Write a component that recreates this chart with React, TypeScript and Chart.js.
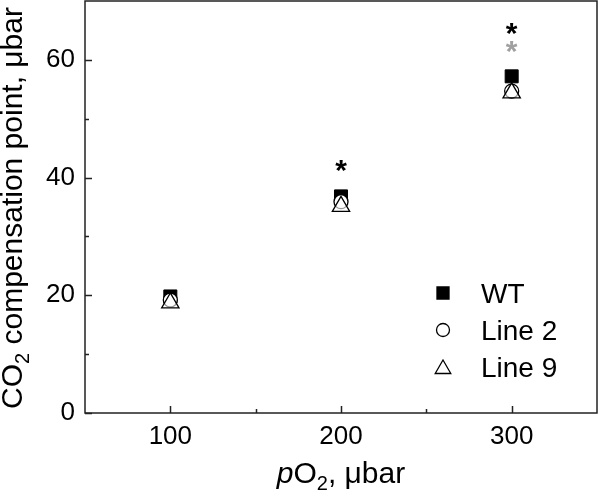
import React, { useEffect, useRef } from 'react';
import { Chart, registerables } from 'chart.js';
import { drawPoint } from 'chart.js/helpers';
Chart.register(...registerables);

const pO2 = [100, 200, 300];
const wtValues = [19.8, 36.8, 57.2];
const line2Values = [19.2, 35.9, 54.7];
const line9Values = [18.7, 35.1, 54.4];
const starBlackX = [200, 300];
const starBlackY = [42.0, 65.3];
const starGrayX = [300];
const starGrayY = [62.1];
const xMajorTicks = [100, 200, 300];
const xMinorTicks = [150, 250];
const yMajorTicks = [0, 20, 40, 60];
const yMinorTicks = [10, 30, 50];
const seriesLabels = ['WT', 'Line 2', 'Line 9'];

const FONT = "'Liberation Sans', Arial, sans-serif";

function drawRich(ctx: CanvasRenderingContext2D, parts: { t: string; f: string; dy: number }[], cx: number, baseY: number) {
  let total = 0;
  const widths = parts.map((p) => {
    ctx.font = p.f;
    const w = ctx.measureText(p.t).width;
    total += w;
    return w;
  });
  let x = cx - total / 2;
  ctx.textAlign = 'left';
  ctx.textBaseline = 'alphabetic';
  parts.forEach((p, i) => {
    ctx.font = p.f;
    ctx.fillText(p.t, x, baseY + p.dy);
    x += widths[i];
  });
}

const decorPlugin = {
  id: 'decor',
  afterDatasetsDraw(chart: any) {
    const ctx: CanvasRenderingContext2D = chart.ctx;
    const { left, right, top, bottom } = chart.chartArea;
    const xs = chart.scales.x;
    const ys = chart.scales.y;
    ctx.save();
    // frame
    ctx.strokeStyle = '#222';
    ctx.lineWidth = 1.5;
    ctx.strokeRect(left, top, right - left, bottom - top);
    // inward ticks
    ctx.beginPath();
    xMajorTicks.forEach((v) => { const px = Math.round(xs.getPixelForValue(v)) + 0.5; ctx.moveTo(px, bottom); ctx.lineTo(px, bottom - 7); });
    xMinorTicks.forEach((v) => { const px = Math.round(xs.getPixelForValue(v)) + 0.5; ctx.moveTo(px, bottom); ctx.lineTo(px, bottom - 4); });
    yMajorTicks.forEach((v) => { const py = Math.round(ys.getPixelForValue(v)) + 0.5; ctx.moveTo(left, py); ctx.lineTo(left + 7, py); });
    yMinorTicks.forEach((v) => { const py = Math.round(ys.getPixelForValue(v)) + 0.5; ctx.moveTo(left, py); ctx.lineTo(left + 4, py); });
    ctx.stroke();

    // asterisks
    const drawStars = (idx: number, color: string) => {
      const meta = chart.getDatasetMeta(idx);
      ctx.fillStyle = color;
      ctx.font = `bold 30px ${FONT}`;
      ctx.textAlign = 'center';
      ctx.textBaseline = 'alphabetic';
      const m = ctx.measureText('*');
      const asc = m.actualBoundingBoxAscent;
      const desc = m.actualBoundingBoxDescent;
      meta.data.forEach((el: any) => {
        ctx.fillText('*', el.x, el.y + (asc - desc) / 2);
      });
    };
    drawStars(3, '#000');
    drawStars(4, '#a0a0a0');

    // legend
    const lx = 443;
    const rows = [293, 330, 367];
    const styles = [
      { style: 'rect', r: 8.5, fill: '#000' },
      { style: 'circle', r: 6.5, fill: '#fff' },
      { style: 'triangle', r: 9, fill: '#fff' },
    ];
    chart.data.datasets.slice(0, 3).forEach((ds: any, i: number) => {
      const s = styles[i];
      ctx.fillStyle = s.fill;
      ctx.strokeStyle = '#000';
      ctx.lineWidth = 1.3;
      const yy = s.style === 'triangle' ? rows[i] + 2 : rows[i];
      drawPoint(ctx, { pointStyle: s.style as any, radius: s.r, rotation: 0, borderWidth: 1.3 } as any, lx, yy);
      ctx.fillStyle = '#000';
      ctx.font = `28px ${FONT}`;
      ctx.textAlign = 'left';
      ctx.textBaseline = 'alphabetic';
      ctx.fillText(ds.label, 481, rows[i] + 10);
    });

    // axis titles
    ctx.fillStyle = '#000';
    const big = `30px ${FONT}`;
    const sub = `20px ${FONT}`;
    drawRich(ctx, [
      { t: 'p', f: `italic 30px ${FONT}`, dy: 0 },
      { t: 'O', f: big, dy: 0 },
      { t: '2', f: sub, dy: 7 },
      { t: ', \u03bcbar', f: big, dy: 0 },
    ], (left + right) / 2, 483);

    ctx.save();
    ctx.translate(11, (top + bottom) / 2 + 1);
    ctx.rotate(-Math.PI / 2);
    drawRich(ctx, [
      { t: 'CO', f: big, dy: 0 },
      { t: '2', f: sub, dy: 7 },
      { t: ' compensation point, \u03bcbar', f: big, dy: 0 },
    ], 0, 11);
    ctx.restore();

    ctx.restore();
  },
};

const zeroPad = (s: any) => {
  s.paddingLeft = 0;
  s.paddingRight = 0;
  s.paddingTop = 0;
  s.paddingBottom = 0;
};

export default function App() {
  const ref = useRef<HTMLCanvasElement | null>(null);
  useEffect(() => {
    document.body.style.margin = '0';
    const canvas = ref.current!;
    const toXY = (xs: number[], ys: number[]) => xs.map((x, i) => ({ x, y: ys[i] }));
    const chart = new Chart(canvas, {
      type: 'scatter',
      data: {
        datasets: [
          { label: seriesLabels[0], data: toXY(pO2, wtValues), pointStyle: 'rect', pointRadius: 9.2, backgroundColor: '#000', borderColor: '#000', borderWidth: 1, order: 3 },
          { label: seriesLabels[1], data: toXY(pO2, line2Values), pointStyle: 'circle', pointRadius: 7, backgroundColor: '#fff', borderColor: '#000', borderWidth: 1.3, order: 2 },
          { label: seriesLabels[2], data: toXY(pO2, line9Values), pointStyle: 'triangle', pointRadius: 10, backgroundColor: 'rgba(255,255,255,0.6)', borderColor: '#000', borderWidth: 1.3, order: 1 },
          { label: '', data: toXY(starBlackX, starBlackY), pointRadius: 0, pointHoverRadius: 0 },
          { label: '', data: toXY(starGrayX, starGrayY), pointRadius: 0, pointHoverRadius: 0 },
        ],
      },
      options: {
        animation: false,
        responsive: true,
        maintainAspectRatio: false,
        layout: { autoPadding: false, padding: { top: 1, right: 3, left: 0, bottom: 0 } },
        plugins: { legend: { display: false }, tooltip: { enabled: false } },
        scales: {
          x: {
            type: 'linear',
            min: 50,
            max: 350,
            afterBuildTicks: (s: any) => { s.ticks = xMajorTicks.map((v) => ({ value: v })); },
            afterFit: (s: any) => { s.height = 77; zeroPad(s); },
            grid: { display: false, drawTicks: false },
            border: { display: false },
            ticks: { color: '#000', font: { family: FONT, size: 26 }, padding: 8 },
          },
          y: {
            type: 'linear',
            min: 0,
            max: 70,
            afterBuildTicks: (s: any) => { s.ticks = yMajorTicks.map((v) => ({ value: v })); },
            afterFit: (s: any) => { s.width = 85; zeroPad(s); },
            grid: { display: false, drawTicks: false },
            border: { display: false },
            ticks: { color: '#000', font: { family: FONT, size: 26 }, padding: 10 },
          },
        },
      },
      plugins: [decorPlugin],
    } as any);
    return () => chart.destroy();
  }, []);
  return (
    <div style={{ width: 600, height: 490, position: 'relative' }}>
      <canvas ref={ref} />
    </div>
  );
}
